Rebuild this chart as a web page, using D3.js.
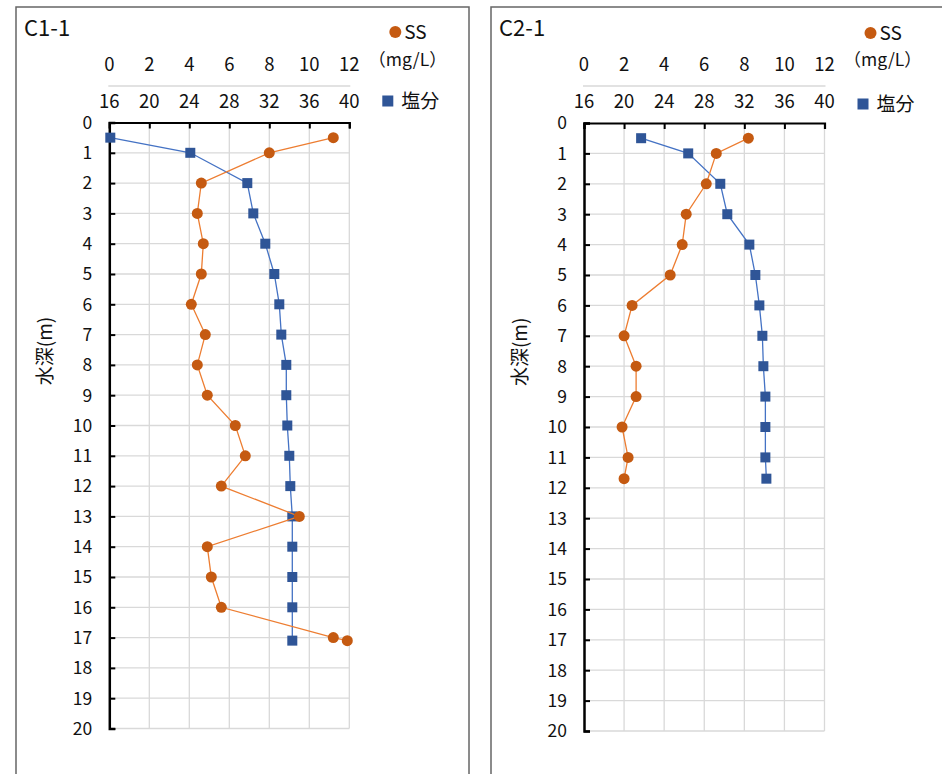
<!DOCTYPE html>
<html>
<head>
<meta charset="utf-8">
<script src="https://cdn.jsdelivr.net/npm/d3@7"></script>
<style>
  html, body { margin: 0; padding: 0; background: #fff; }
  svg { display: block; }
  text { font-family: "Noto Sans CJK JP", "Noto Sans", sans-serif; fill: #111; }
  text.unit { text-spacing-trim: space-all; }
</style>
</head>
<body>
<svg id="chart" width="942" height="774"></svg>
<script>
// Axis ticks shared by both stations
const depthTicks = d3.range(0, 21);
const ssTicks = [0, 2, 4, 6, 8, 10, 12];
const salTicks = [16, 20, 24, 28, 32, 36, 40];

// Station C1-1
const c1SalDepth = [0.5, 1, 2, 3, 4, 5, 6, 7, 8, 9, 10, 11, 12, 13, 14, 15, 16, 17.1];
const c1Sal      = [16.1, 24.1, 29.8, 30.4, 31.6, 32.5, 33.0, 33.2, 33.7, 33.7, 33.8, 34.0, 34.1, 34.3, 34.3, 34.3, 34.3, 34.3];
const c1SSDepth  = [0.5, 1, 2, 3, 4, 5, 6, 7, 8, 9, 10, 11, 12, 13, 14, 15, 16, 17, 17.1];
const c1SS       = [11.2, 8.0, 4.6, 4.4, 4.7, 4.6, 4.1, 4.8, 4.4, 4.9, 6.3, 6.8, 5.6, 9.5, 4.9, 5.1, 5.6, 11.2, 11.9];

// Station C2-1
const c2SalDepth = [0.5, 1, 2, 3, 4, 5, 6, 7, 8, 9, 10, 11, 11.7];
const c2Sal      = [21.7, 26.4, 29.6, 30.3, 32.5, 33.1, 33.5, 33.8, 33.9, 34.1, 34.1, 34.1, 34.2];
const c2SSDepth  = [0.5, 1, 2, 3, 4, 5, 6, 7, 8, 9, 10, 11, 11.7];
const c2SS       = [8.2, 6.6, 6.1, 5.1, 4.9, 4.3, 2.4, 2.0, 2.6, 2.6, 1.9, 2.2, 2.0];

const stations = [
  { name: "C1-1", salDepth: c1SalDepth, sal: c1Sal, ssDepth: c1SSDepth, ss: c1SS },
  { name: "C2-1", salDepth: c2SalDepth, sal: c2Sal, ssDepth: c2SSDepth, ss: c2SS }
];

const layout = [
  { frame: [16, 7, 453, 800], x0: 109.3, x1: 349.3, y0: 122.5, y1: 728.5, legY: 0 },
  { frame: [491, 7, 480, 800], x0: 584, x1: 824.5, y0: 123, y1: 731, legY: 3 }
];

const COL_SS = "#c55a11", COL_SS_LINE = "#ed7d31";
const COL_SAL = "#2f5597", COL_SAL_LINE = "#4472c4";
const GRID = "#d9d9d9";

const svg = d3.select("#chart");

stations.forEach((st, i) => {
  const L = layout[i];
  const g = svg.append("g");

  // frame around each station's chart
  g.append("rect")
    .attr("x", L.frame[0]).attr("y", L.frame[1])
    .attr("width", L.frame[2]).attr("height", L.frame[3])
    .attr("fill", "#fff").attr("stroke", "#666").attr("stroke-width", 1.5);

  const y = d3.scaleLinear().domain([0, 20]).range([L.y0, L.y1]);
  const xSal = d3.scaleLinear().domain([16, 40]).range([L.x0, L.x1]);
  const xSS = d3.scaleLinear().domain([0, 12]).range([L.x0, L.x1]);

  // grid
  g.append("g").selectAll("line.h").data(depthTicks.slice(1)).join("line")
    .attr("x1", L.x0).attr("x2", L.x1)
    .attr("y1", d => y(d)).attr("y2", d => y(d))
    .attr("stroke", GRID).attr("stroke-width", 1.3);
  g.append("g").selectAll("line.v").data(salTicks.slice(1)).join("line")
    .attr("x1", d => xSal(d)).attr("x2", d => xSal(d))
    .attr("y1", L.y0).attr("y2", L.y1)
    .attr("stroke", GRID).attr("stroke-width", 1.3);

  // top axis (salinity scale): ticks pointing into the plot
  const topAxis = g.append("g").attr("transform", `translate(0,${L.y0})`)
    .call(d3.axisBottom(xSal).tickValues(salTicks).tickSize(6).tickFormat(""));
  topAxis.select(".domain").attr("stroke", "#000").attr("stroke-width", 2.2);
  topAxis.selectAll(".tick line").attr("stroke", "#000").attr("stroke-width", 2);

  // left axis (depth)
  const leftAxis = g.append("g").attr("transform", `translate(${L.x0},0)`)
    .call(d3.axisRight(y).tickValues(depthTicks).tickSize(6).tickFormat(""));
  leftAxis.select(".domain").attr("stroke", "#000").attr("stroke-width", 2.5);
  leftAxis.selectAll(".tick line").attr("stroke", "#000").attr("stroke-width", 2);

  // depth labels
  g.append("g").selectAll("text").data(depthTicks).join("text")
    .attr("x", L.x0 - 17).attr("y", d => y(d))
    .attr("dy", "0.36em").attr("text-anchor", "end")
    .attr("font-size", 17.5).text(d => d);

  // SS labels (upper row) and salinity labels (lower row)
  g.append("g").selectAll("text").data(ssTicks).join("text")
    .attr("x", d => xSS(d)).attr("y", 64).attr("dy", "0.36em")
    .attr("text-anchor", "middle").attr("font-size", 18.5).text(d => d);
  g.append("line")
    .attr("x1", L.x0 - 1).attr("x2", L.x1 + 1).attr("y1", 86).attr("y2", 86)
    .attr("stroke", GRID).attr("stroke-width", 1.3);
  g.append("g").selectAll("text").data(salTicks).join("text")
    .attr("x", d => xSal(d)).attr("y", 101.5).attr("dy", "0.36em")
    .attr("text-anchor", "middle").attr("font-size", 18.5).text(d => d);

  // station name
  g.append("text").attr("x", L.frame[0] + 8).attr("y", 28).attr("dy", "0.36em")
    .attr("font-size", 22).text(st.name);

  // depth axis title
  g.append("text")
    .attr("transform", `translate(${L.frame[0] + 29},${351 + L.legY * 0.3}) rotate(-90)`)
    .attr("text-anchor", "middle").attr("dy", "0.36em")
    .attr("font-size", 19).text("水深(m)");

  // legend
  const lx = L.x1 + 46;
  g.append("circle").attr("cx", lx).attr("cy", 32 + L.legY * 0.3).attr("r", 6).attr("fill", COL_SS);
  g.append("text").attr("x", lx + 9).attr("y", 32 + L.legY * 0.3).attr("dy", "0.36em")
    .attr("font-size", 19).text("SS");
  g.append("text").attr("class", "unit")
    .attr("x", lx - 27).attr("y", 60).attr("dy", "0.36em")
    .attr("font-size", 17.5).text("（mg/L）");
  g.append("rect").attr("x", lx - 13).attr("y", 101 + L.legY - 5.5)
    .attr("width", 11).attr("height", 11).attr("fill", COL_SAL);
  g.append("text").attr("x", lx + 6).attr("y", 101 + L.legY).attr("dy", "0.36em")
    .attr("font-size", 19).text("塩分");

  // salinity profile
  const salPts = st.sal.map((v, k) => [xSal(v), y(st.salDepth[k])]);
  g.append("path").attr("d", d3.line()(salPts))
    .attr("fill", "none").attr("stroke", COL_SAL_LINE).attr("stroke-width", 1.3);
  g.append("g").selectAll("rect").data(salPts).join("rect")
    .attr("x", d => d[0] - 5).attr("y", d => d[1] - 5)
    .attr("width", 10).attr("height", 10).attr("fill", COL_SAL);

  // SS profile
  const ssPts = st.ss.map((v, k) => [xSS(v), y(st.ssDepth[k])]);
  g.append("path").attr("d", d3.line()(ssPts))
    .attr("fill", "none").attr("stroke", COL_SS_LINE).attr("stroke-width", 1.3);
  g.append("g").selectAll("circle").data(ssPts).join("circle")
    .attr("cx", d => d[0]).attr("cy", d => d[1]).attr("r", 5.5).attr("fill", COL_SS);
});
</script>
</body>
</html>
